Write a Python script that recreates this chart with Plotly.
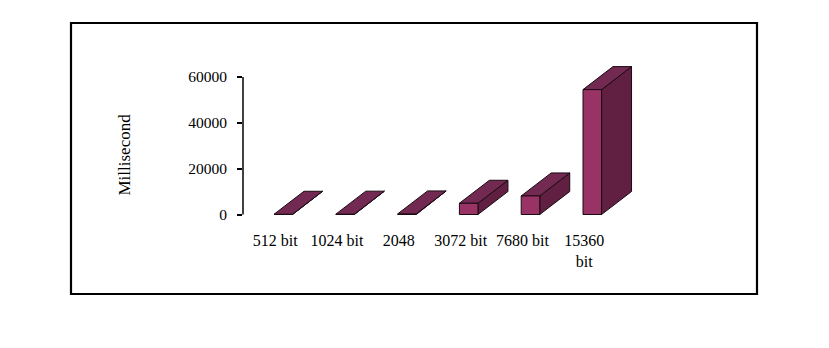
import plotly.graph_objects as go

# ---- data ----
categories = ["512 bit", "1024 bit", "2048", "3072 bit", "7680 bit", "15360<br>bit"]
values = [100, 150, 250, 4900, 8100, 54500]
y_tickvals = [0, 20000, 40000, 60000]
y_title = "Millisecond"

# ---- styling / geometry ----
W, H = 829, 348
FONT = "Liberation Serif"
FRONT = "#993366"
TOP = "#732a52"
SIDE = "#612041"
EDGE = "#1a0a12"

# pixel anchors for the axes (layout)
px_left, px_right = 243, 700
px_top, px_bottom = 50, 216
y0_px, y60k_px = 214.5, 77.0
unit_y = (y0_px - y60k_px) / 60000.0      # px per data unit
x_step_px = 61.8                           # px per category
half_w = 0.15                              # half width of front face (category units)
x0_px = 274 + half_w * x_step_px           # px of category 0 centre

y_lo = -(px_bottom - y0_px) / unit_y
y_hi = (y0_px - px_top) / unit_y
x_lo = (px_left - x0_px) / x_step_px
x_hi = (px_right - x0_px) / x_step_px

dx = 30 / x_step_px          # depth offset in x units
dy = 23 / unit_y             # depth offset in y units

fig = go.Figure()

def poly(xs, ys, color):
    fig.add_trace(go.Scatter(
        x=xs + [xs[0]], y=ys + [ys[0]], mode="lines", fill="toself",
        fillcolor=color, line=dict(color=EDGE, width=1),
        hoverinfo="skip", showlegend=False))

for i, v in enumerate(values):
    a, b = i - half_w, i + half_w
    # side
    poly([b, b + dx, b + dx, b], [0, dy, v + dy, v], SIDE)
    # top
    poly([a, b, b + dx, a + dx], [v, v, v + dy, v + dy], TOP)
    # front
    poly([a, b, b, a], [0, 0, v, v], FRONT)

pw = px_right - px_left
ph = px_bottom - px_top

def fx(px):
    return (px - px_left) / pw

def fy(py):
    return (px_bottom - py) / ph

# outer frame
fig.add_shape(type="rect", xref="paper", yref="paper",
              x0=fx(71), x1=fx(757), y0=fy(294), y1=fy(23),
              line=dict(color="black", width=2.2), layer="below")
# y axis line
fig.add_shape(type="line", xref="paper", yref="y", x0=0, x1=0,
              y0=0, y1=60000, line=dict(color="black", width=1.5))

# y axis title
fig.add_annotation(text=y_title, xref="paper", yref="paper",
                   x=fx(112), y=fy(155), textangle=-90, showarrow=False,
                   font=dict(family=FONT, size=17, color="black"))

fig.update_layout(
    width=W, height=H,
    margin=dict(l=px_left, r=W - px_right, t=px_top, b=H - px_bottom, pad=0),
    paper_bgcolor="white", plot_bgcolor="white",
    font=dict(family=FONT, size=15, color="black"),
    xaxis=dict(range=[x_lo, x_hi], tickvals=[i - 0.13 for i in range(len(categories))],
               ticktext=categories, showgrid=False, zeroline=False, showline=False,
               ticks="", ticklabelstandoff=13, tickfont=dict(size=16), fixedrange=True),
    yaxis=dict(range=[y_lo, y_hi], tickvals=y_tickvals,
               ticktext=[str(t) for t in y_tickvals],
               showgrid=False, zeroline=False, showline=False,
               ticks="outside", ticklen=5, tickwidth=1.5, tickcolor="black",
               ticklabelstandoff=7, tickfont=dict(size=15.5), fixedrange=True),
)

fig.write_html("out.html")
